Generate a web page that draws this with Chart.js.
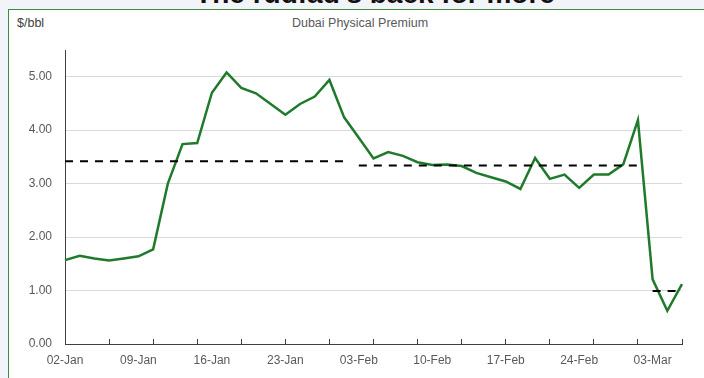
<!DOCTYPE html>
<html>
<head>
<meta charset="utf-8">
<script src="https://cdn.jsdelivr.net/npm/chart.js@4"></script>
<style>
  html, body { margin: 0; padding: 0; }
  body { width: 704px; height: 378px; overflow: hidden; background: #f2f4f9; position: relative; font-family: "Liberation Sans", Arial, sans-serif; }
  #titulo { position: absolute; left: 0; width: 750px; top: -22px; text-align: center; font-weight: bold; font-size: 28px; color: #111; white-space: nowrap; }
  #quadro { position: absolute; left: 8px; top: 9px; width: 720px; height: 400px; background: #fff; border-left: 1.5px solid #3f8a3f; border-top: 1.5px solid #3f8a3f; }
  #unidade { position: absolute; left: 17px; top: 16px; font-size: 12.5px; color: #404040; }
  #serie { position: absolute; left: 0; width: 720px; top: 16px; text-align: center; font-size: 12.5px; color: #595959; }
  #grafico { position: absolute; left: 0; top: 0; }
</style>
</head>
<body>
<div id="quadro"></div>
<div id="titulo">The rudfad's back for more</div>
<div id="unidade">$/bbl</div>
<div id="serie">Dubai Physical Premium</div>
<canvas id="grafico" width="704" height="378"></canvas>
<script>
// dias de negociação (rótulos do eixo x)
const datas = [
  '02-Jan', '03-Jan', '06-Jan', '07-Jan', '08-Jan',
  '09-Jan', '10-Jan', '13-Jan', '14-Jan', '15-Jan',
  '16-Jan', '17-Jan', '20-Jan', '21-Jan', '22-Jan',
  '23-Jan', '24-Jan', '27-Jan', '28-Jan', '31-Jan',
  '03-Feb', '04-Feb', '05-Feb', '06-Feb', '07-Feb',
  '10-Feb', '11-Feb', '12-Feb', '13-Feb', '14-Feb',
  '17-Feb', '18-Feb', '19-Feb', '20-Feb', '21-Feb',
  '24-Feb', '25-Feb', '26-Feb', '27-Feb', '28-Feb',
  '03-Mar', '04-Mar', '05-Mar'
];

// prêmio físico de Dubai, $/bbl
const premio = [
  1.57, 1.65, 1.60, 1.56, 1.60, 1.64, 1.77, 3.00, 3.74, 3.76,
  4.70, 5.08, 4.79, 4.69, 4.49, 4.29, 4.49, 4.63, 4.94, 4.24,
  3.86, 3.47, 3.59, 3.52, 3.40, 3.35, 3.36, 3.33, 3.20, 3.12,
  3.04, 2.90, 3.48, 3.09, 3.17, 2.92, 3.17, 3.17, 3.36, 4.19,
  1.21, 0.62, 1.12
];

// médias mensais (tracejado): valor, primeiro e último dia
const mediasMes = [3.42, 3.34, 0.99];
const inicioMes = ['02-Jan', '03-Feb', '03-Mar'];
const fimMes = ['31-Jan', '28-Feb', '05-Mar'];

const ticksY = [0, 1, 2, 3, 4, 5];

function serieMedia(k) {
  const a = datas.indexOf(inicioMes[k]);
  const b = datas.indexOf(fimMes[k]);
  return datas.map((d, i) => (i >= a && i <= b) ? mediasMes[k] : null);
}

const conjuntos = [{
  data: premio,
  borderColor: '#1f7a2c',
  borderWidth: 2.5,
  pointRadius: 0,
  tension: 0,
  order: 1
}];
for (let k = 0; k < mediasMes.length; k++) {
  conjuntos.push({
    data: serieMedia(k),
    borderColor: '#000000',
    borderWidth: 2,
    borderDash: [8, 7],
    pointRadius: 0,
    spanGaps: false,
    order: 0
  });
}

const fonteEixo = { family: '"Liberation Sans", Arial, sans-serif', size: 12 };

new Chart(document.getElementById('grafico').getContext('2d'), {
  type: 'line',
  data: { labels: datas, datasets: conjuntos },
  options: {
    responsive: false,
    animation: false,
    layout: { padding: { left: 0, right: 22, top: 50, bottom: 0 } },
    plugins: { legend: { display: false }, tooltip: { enabled: false }, title: { display: false } },
    scales: {
      x: {
        type: 'category',
        offset: false,
        afterFit: (s) => { s.height = 34; },
        border: { color: '#404040', width: 1 },
        grid: {
          drawOnChartArea: false,
          tickLength: -5,
          color: (c) => c.index % 3 === 0 ? '#404040' : 'rgba(0,0,0,0)',
          tickColor: (c) => c.index % 3 === 0 ? '#404040' : 'rgba(0,0,0,0)'
        },
        ticks: {
          autoSkip: false,
          maxRotation: 0,
          padding: 14,
          color: '#595959',
          font: fonteEixo,
          callback: (v, i) => i % 5 === 0 ? datas[i] : ''
        }
      },
      y: {
        min: ticksY[0],
        max: 5.5,
        afterFit: (s) => { s.width = 65; },
        border: { color: '#404040', width: 1 },
        grid: { color: '#d9d9d9', drawTicks: false },
        afterBuildTicks: (s) => { s.ticks = ticksY.map(v => ({ value: v })); },
        ticks: {
          padding: 13,
          color: '#595959',
          font: fonteEixo,
          callback: (v) => Number(v).toFixed(2)
        }
      }
    }
  }
});
</script>
</body>
</html>
